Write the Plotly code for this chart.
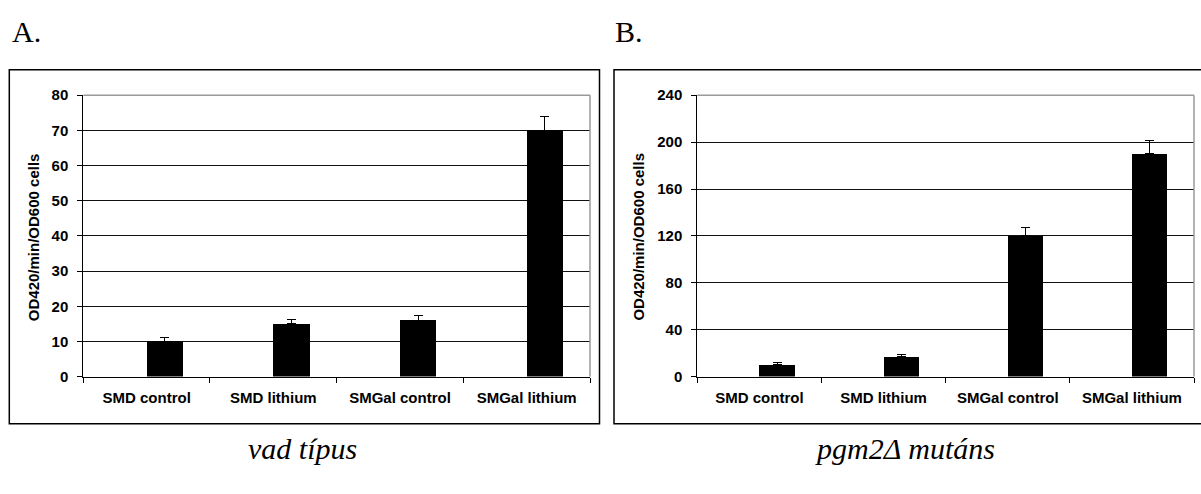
import plotly.graph_objects as go

categories = ["SMD control", "SMD lithium", "SMGal control", "SMGal lithium"]
wild_values = [10, 15, 16, 70]
wild_errors = [1.1, 1.2, 1.4, 4.0]
mutant_values = [10, 17, 120, 190]
mutant_errors = [1.6, 2.0, 7.0, 11.0]
left_ticks = [0, 10, 20, 30, 40, 50, 60, 70, 80]
right_ticks = [0, 40, 80, 120, 160, 200, 240]
y_title = "OD420/min/OD600 cells"
panel_labels = ["A.", "B."]
captions = ["vad típus", "pgm2Δ mutáns"]

W, H = 1201, 494
SANS = "Liberation Sans, Arial, sans-serif"
SERIF = "Liberation Serif, Times New Roman, serif"

def px(x):
    return x / W

def py(y):
    return (H - y) / H

def clamp(v):
    return max(0.0, min(1.0, v))

fig = go.Figure()
bar_w = 1 / 3.5
for vals, errs, xa, ya in [(wild_values, wild_errors, "x", "y"),
                            (mutant_values, mutant_errors, "x2", "y2")]:
    fig.add_trace(go.Bar(
        x=categories, y=vals, xaxis=xa, yaxis=ya,
        offset=0, width=bar_w,
        marker=dict(color="#000000", line=dict(width=0)),
        error_y=dict(type="data", array=errs, symmetric=False,
                     arrayminus=[0] * len(errs), color="#000000",
                     thickness=1, width=4.5),
        showlegend=False, hoverinfo="skip",
    ))

ydom = [clamp(py(380.7)), clamp(py(89.3))]
axis_common = dict(showgrid=False, showline=True, linecolor="#000000", linewidth=1,
                   ticks="outside", ticklen=5, tickcolor="#000000",
                   tickfont=dict(family=SANS, size=15, color="#000000", weight="bold"))
xcommon = dict(axis_common, type="category", tickson="boundaries", ticklabelstandoff=7,
               range=[-0.5, 3.5])
ycommon = dict(axis_common, showgrid=True, gridcolor="#111111", gridwidth=1,
               zeroline=False, ticklabelstandoff=6)

fig.update_layout(
    width=W, height=H, margin=dict(l=0, r=0, t=0, b=0),
    paper_bgcolor="white", plot_bgcolor="white",
    bargap=0,
    xaxis=dict(xcommon, domain=[clamp(px(83.3)), clamp(px(590))], anchor="y"),
    yaxis=dict(ycommon, domain=ydom, range=[0, 80], tickvals=left_ticks, anchor="x"),
    xaxis2=dict(xcommon, domain=[clamp(px(697.3)), clamp(px(1194))], anchor="y2"),
    yaxis2=dict(ycommon, domain=ydom, range=[0, 240], tickvals=right_ticks, anchor="x2"),
)

shapes = []
# outer boxes
shapes.append(dict(type="rect", xref="paper", yref="paper", x0=px(9.3), x1=px(599.5),
                   y0=py(429.5), y1=py(63), line=dict(color="#000000", width=1.5)))
shapes.append(dict(type="rect", xref="paper", yref="paper", x0=px(614), x1=px(1215),
                   y0=py(429.5), y1=py(63), line=dict(color="#000000", width=1.5)))
# plot-area borders (gray top and right)
for xr, yr in [("x", "y"), ("x2", "y2")]:
    shapes.append(dict(type="line", xref=xr + " domain", yref=yr + " domain",
                       x0=0, x1=1, y0=1, y1=1, line=dict(color="#9a9a9a", width=1.5),
                       layer="above"))
    shapes.append(dict(type="line", xref=xr + " domain", yref=yr + " domain",
                       x0=1, x1=1, y0=0, y1=1, line=dict(color="#9a9a9a", width=1.5),
                       layer="above"))
fig.update_layout(shapes=shapes)

annotations = []
for xc in [34.3, 638.7]:
    annotations.append(dict(text=y_title, xref="paper", yref="paper", x=px(xc), y=py(236),
                            xanchor="center", yanchor="middle", textangle=-90, showarrow=False,
                            font=dict(family=SANS, size=15, color="#000000", weight="bold")))
for lbl, xl in zip(panel_labels, [10, 613]):
    annotations.append(dict(text=lbl, xref="paper", yref="paper", x=px(xl), y=py(23),
                            xanchor="left", yanchor="middle", showarrow=False,
                            font=dict(family=SERIF, size=30, color="#000000")))
for cap, xc in zip(captions, [302, 905]):
    annotations.append(dict(text="<i>" + cap + "</i>", xref="paper", yref="paper", x=px(xc),
                            y=py(455), xanchor="center", yanchor="middle", showarrow=False,
                            font=dict(family=SERIF, size=30, color="#000000")))
fig.update_layout(annotations=annotations)

fig.write_html("out.html",
               config={"displayModeBar": False, "staticPlot": True},
               post_script="document.body.style.margin='0';"
                           "document.body.style.overflow='hidden';")
